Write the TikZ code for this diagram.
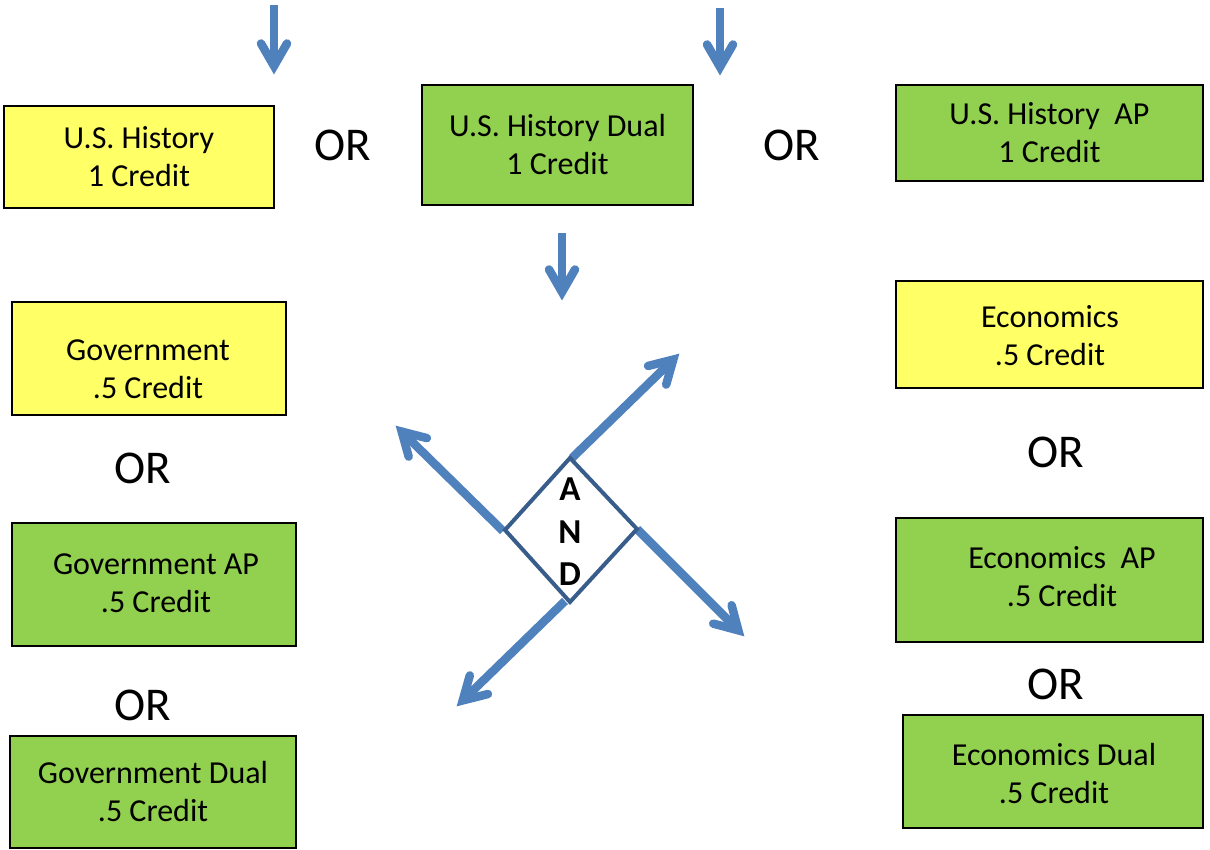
\documentclass[tikz,border=0pt]{standalone}
\usepackage{fontspec}
\setmainfont{Carlito}
\usetikzlibrary{calc}
\definecolor{boxyellow}{RGB}{255,255,102}
\definecolor{boxgreen}{RGB}{146,208,80}
\definecolor{arrowblue}{RGB}{79,129,189}
\definecolor{diamondblue}{RGB}{56,93,138}
\tikzset{
  course/.style={draw=black, line width=2.5pt, align=center, inner sep=0pt,
    font=\fontsize{32}{38}\selectfont},
  yel/.style={course, fill=boxyellow},
  grn/.style={course, fill=boxgreen},
  coursetext/.style={font=\fontsize{32}{38}\selectfont, align=center, inner sep=0pt},
  ortext/.style={font=\fontsize{47}{50}\selectfont, inner sep=0pt},
  shaft/.style={draw=arrowblue, line width=8.5pt, line cap=butt},
  barb/.style={draw=arrowblue, line width=8.5pt, line cap=round, line join=miter, miter limit=10},
}
% arrow from #1 to tip #2 (tip is the outer point of the head)
\newcommand{\bluechev}[2]{%
  \coordinate (vtx) at ($(#2)!8pt!(#1)$);
  \draw[shaft] (#1) -- ($(vtx)!3pt!(#1)$);
  \draw[barb] ($(vtx)!26pt!30:(#1)$) -- (vtx) -- ($(vtx)!26pt!-30:(#1)$);
}
\begin{document}
\begin{tikzpicture}[x=1pt,y=-1pt]
\useasboundingbox (0,0) rectangle (1210,850);
% boxes
\node[yel, minimum width=270pt, minimum height=102pt] (ush) at (139,157) {U.S. History\\1 Credit};
\node[grn, minimum width=271pt, minimum height=120pt] (usd) at (557.5,145) {U.S. History Dual\\1 Credit};
\node[grn, minimum width=307pt, minimum height=96pt] (usap) at (1049.5,133) {U.S. History\ \ AP\\1 Credit};
\node[yel, minimum width=274pt, minimum height=113pt] (gov) at (149,358.5) {};
\node[coursetext] (govt) at (148,369) {Government\\.5 Credit};
\node[grn, minimum width=284pt, minimum height=123pt] (govap) at (154,584.5) {};
\node[coursetext] (govapt) at (156,583) {Government AP\\.5 Credit};
\node[grn, minimum width=286pt, minimum height=112pt] (govd) at (153,792) {Government Dual\\.5 Credit};
\node[yel, minimum width=307pt, minimum height=107pt] (eco) at (1049.5,334.5) {};
\node[coursetext] (ecot) at (1050,336) {Economics\\.5 Credit};
\node[grn, minimum width=307pt, minimum height=124pt] (ecoap) at (1049.5,580) {};
\node[coursetext] (ecoapt) at (1062,577) {Economics\ \ AP\\.5 Credit};
\node[grn, minimum width=300pt, minimum height=113pt] (ecod) at (1053,771.5) {};
\node[coursetext] (ecodt) at (1054,774) {Economics Dual\\.5 Credit};
% OR labels
\node[ortext] (or1) at (343,145) {OR};
\node[ortext] (or2) at (792,145) {OR};
\node[ortext] (or3) at (143,468) {OR};
\node[ortext] (or4) at (143,705) {OR};
\node[ortext] (or5) at (1056,452) {OR};
\node[ortext] (or6) at (1056,684) {OR};
% down arrows
\coordinate (a1s) at (274,5);   \coordinate (a1e) at (274,74);
\coordinate (a2s) at (720,8);   \coordinate (a2e) at (720,75);
\coordinate (a3s) at (562,233); \coordinate (a3e) at (562,300);
\bluechev{a1s}{a1e}
\bluechev{a2s}{a2e}
\bluechev{a3s}{a3e}
% AND diamond
\coordinate (dt) at (570,458);
\coordinate (dl) at (505,530);
\coordinate (dr) at (637,529);
\coordinate (db) at (570,602);
\coordinate (ne) at (679,354);
\coordinate (nw) at (396,426);
\coordinate (se) at (744,636);
\coordinate (sw) at (457,706);
\coordinate (nes) at (572,458);
\coordinate (nws) at (503,531);
\coordinate (ses) at (637,529);
\coordinate (sws) at (565,601);
\bluechev{nes}{ne}
\bluechev{nws}{nw}
\bluechev{ses}{se}
\bluechev{sws}{sw}
\draw[draw=diamondblue, line width=4pt, line join=miter] (dt) -- (dr) -- (db) -- (dl) -- cycle;
\node[font=\bfseries\fontsize{35}{42.5}\selectfont, align=center, inner sep=0pt] (and) at (570,532) {A\\N\\D};
\end{tikzpicture}
\end{document}
